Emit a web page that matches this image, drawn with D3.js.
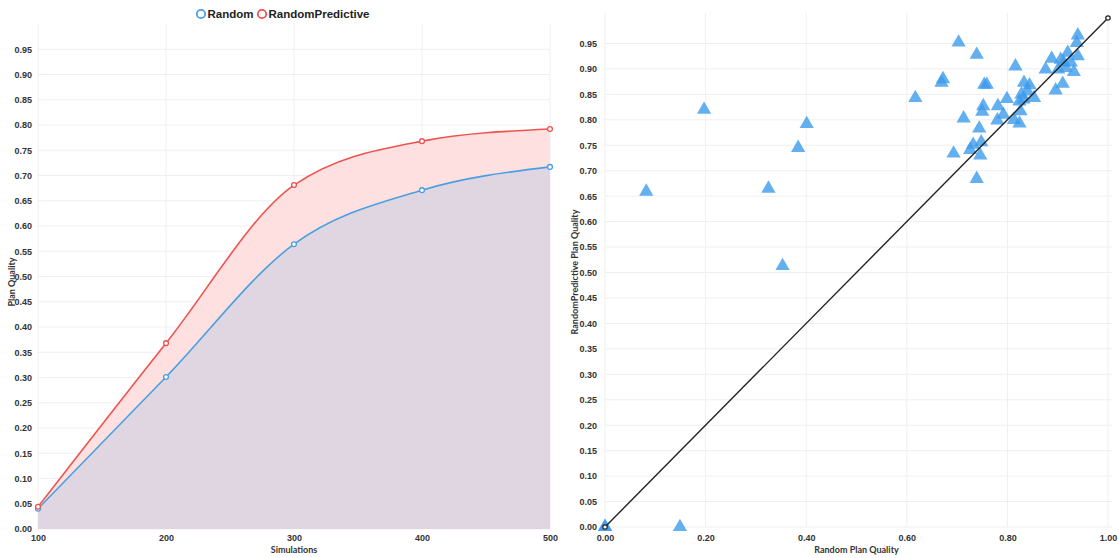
<!DOCTYPE html>
<html>
<head>
<meta charset="utf-8">
<script src="https://cdn.jsdelivr.net/npm/d3@7"></script>
<style>
  html, body { margin: 0; padding: 0; background: #fff; }
  svg { display: block; font-family: Lato, "Open Sans", sans-serif; }
  .tick text { font-size: 9px; font-weight: 700; fill: #333; }
  .title { font-size: 9px; font-weight: 700; fill: #333; }
  .legend { font-family: "Liberation Sans", Arial, sans-serif; font-size: 11.5px; font-weight: 700; fill: #222; }
</style>
</head>
<body>
<svg id="chart" width="1119" height="558"></svg>
<script>
// Plan quality vs. number of simulations
const simulations = [100, 200, 300, 400, 500];
const randomQuality = [0.040, 0.301, 0.564, 0.671, 0.717];
const predictiveQuality = [0.044, 0.368, 0.681, 0.768, 0.792];
const leftYTicks = d3.range(0, 0.951, 0.05);

// Per-problem plan quality: Random (x) vs RandomPredictive (y)
const scatterRandom = [
  0.000, 0.000, 0.149, 0.082, 0.197, 0.325, 0.401, 0.384, 0.353,
  0.617, 0.703, 0.739, 0.672, 0.669, 0.713, 0.693, 0.739, 0.744,
  0.732, 0.726, 0.748, 0.746, 0.754, 0.759, 0.752, 0.750, 0.781,
  0.792, 0.780, 0.799, 0.816, 0.813, 0.824, 0.826, 0.824, 0.828,
  0.833, 0.844, 0.853, 0.840, 0.832, 0.876, 0.888, 0.896, 0.910,
  0.901, 0.906, 0.916, 0.920, 0.926, 0.932, 0.940, 0.940, 0.938, 0.912
];
const scatterPredictive = [
  0.000, 0.000, 0.000, 0.659, 0.820, 0.665, 0.792, 0.745, 0.513,
  0.843, 0.952, 0.928, 0.880, 0.873, 0.803, 0.734, 0.684, 0.783,
  0.751, 0.741, 0.756, 0.730, 0.869, 0.869, 0.827, 0.816, 0.827,
  0.810, 0.799, 0.841, 0.905, 0.800, 0.793, 0.817, 0.836, 0.850,
  0.873, 0.868, 0.843, 0.856, 0.840, 0.899, 0.920, 0.858, 0.871,
  0.899, 0.918, 0.902, 0.932, 0.913, 0.894, 0.925, 0.966, 0.951, 0.913
];
const diagonal = [0, 1];
const rightXTicks = [0, 0.2, 0.4, 0.6, 0.8, 1.0];
const rightYTicks = d3.range(0, 0.951, 0.05);

const blue = "#4a9fe2";
const red = "#ef5350";
const gridColor = "#efefef";

const svg = d3.select("#chart");
const fmt = d3.format(".2f");

// ---------- Left: line/area chart ----------
const L = { left: 38, right: 550, top: 23, bottom: 529 };
const xL = d3.scaleLinear().domain([100, 500]).range([L.left, L.right]);
const yL = d3.scaleLinear().domain([0, 1]).range([L.bottom, 24]);

const gl = svg.append("g");

// grid
gl.append("g").selectAll("line.h").data(leftYTicks).join("line")
  .attr("x1", L.left).attr("x2", L.right)
  .attr("y1", d => yL(d)).attr("y2", d => yL(d))
  .attr("stroke", gridColor);
gl.append("g").selectAll("line.v").data(simulations).join("line")
  .attr("x1", d => xL(d)).attr("x2", d => xL(d))
  .attr("y1", L.top).attr("y2", L.bottom)
  .attr("stroke", gridColor);

const predData = simulations.map((s, i) => ({ x: s, y: predictiveQuality[i] }));
const randData = simulations.map((s, i) => ({ x: s, y: randomQuality[i] }));

const area = d3.area().curve(d3.curveMonotoneX)
  .x(d => xL(d.x)).y0(yL(0)).y1(d => yL(d.y));
const line = d3.line().curve(d3.curveMonotoneX)
  .x(d => xL(d.x)).y(d => yL(d.y));

gl.append("path").datum(predData).attr("d", area).attr("fill", "#fde0df");
gl.append("path").datum(randData).attr("d", area).attr("fill", "#e0d6e1");

gl.append("path").datum(randData).attr("d", line)
  .attr("fill", "none").attr("stroke", blue).attr("stroke-width", 1.6);
gl.append("path").datum(predData).attr("d", line)
  .attr("fill", "none").attr("stroke", red).attr("stroke-width", 1.6);

[[randData, blue], [predData, red]].forEach(([data, c]) => {
  gl.append("g").selectAll("circle").data(data).join("circle")
    .attr("cx", d => xL(d.x)).attr("cy", d => yL(d.y)).attr("r", 2.4)
    .attr("fill", "#fff").attr("stroke", c).attr("stroke-width", 1.3);
});

// axes
const axLX = gl.append("g").attr("transform", `translate(0,${L.bottom})`)
  .call(d3.axisBottom(xL).tickValues(simulations).tickSize(0).tickPadding(6));
axLX.select(".domain").remove();
const axLY = gl.append("g").attr("transform", `translate(${L.left},0)`)
  .call(d3.axisLeft(yL).tickValues(leftYTicks).tickFormat(fmt).tickSize(0).tickPadding(6));
axLY.select(".domain").remove();

gl.append("text").attr("class", "title")
  .attr("x", (L.left + L.right) / 2).attr("y", 553).attr("text-anchor", "middle")
  .text("Simulations");
gl.append("text").attr("class", "title")
  .attr("transform", `translate(15,${(L.top + L.bottom) / 2 + 6}) rotate(-90)`)
  .attr("text-anchor", "middle").text("Plan Quality");

// legend
const legend = svg.append("g");
[["Random", blue, 201], ["RandomPredictive", red, 262]].forEach(([name, c, x]) => {
  legend.append("circle").attr("cx", x).attr("cy", 14).attr("r", 4.2)
    .attr("fill", "#fff").attr("stroke", c).attr("stroke-width", 1.8);
  legend.append("text").attr("class", "legend")
    .attr("x", x + 6.5).attr("y", 18.2).text(name);
});

// ---------- Right: scatter chart ----------
const R = { left: 605, right: 1108, top: 13, bottom: 527 };
const xR = d3.scaleLinear().domain([0, 1]).range([R.left, R.right]);
const yR = d3.scaleLinear().domain([0, 1]).range([R.bottom, 18]);

const gr = svg.append("g");

gr.append("g").selectAll("line").data(rightYTicks).join("line")
  .attr("x1", R.left).attr("x2", R.right + 4)
  .attr("y1", d => yR(d)).attr("y2", d => yR(d))
  .attr("stroke", gridColor);
gr.append("g").selectAll("line").data(rightXTicks).join("line")
  .attr("x1", d => xR(d)).attr("x2", d => xR(d))
  .attr("y1", R.top).attr("y2", R.bottom)
  .attr("stroke", gridColor);

const axRX = gr.append("g").attr("transform", `translate(0,${R.bottom})`)
  .call(d3.axisBottom(xR).tickValues(rightXTicks).tickFormat(fmt).tickSize(0).tickPadding(8));
axRX.select(".domain").remove();
const axRY = gr.append("g").attr("transform", `translate(${R.left},0)`)
  .call(d3.axisLeft(yR).tickValues(rightYTicks).tickFormat(fmt).tickSize(0).tickPadding(8));
axRY.select(".domain").remove();

gr.append("text").attr("class", "title")
  .attr("x", (R.left + R.right) / 2).attr("y", 553).attr("text-anchor", "middle")
  .text("Random Plan Quality");
gr.append("text").attr("class", "title")
  .attr("transform", `translate(578,${(R.top + R.bottom) / 2 + 2}) rotate(-90)`)
  .attr("text-anchor", "middle").text("RandomPredictive Plan Quality");

// scatter triangles
const tri = d3.symbol().type(d3.symbolTriangle).size(88);
gr.append("g").selectAll("path").data(scatterRandom.map((x, i) => [x, scatterPredictive[i]])).join("path")
  .attr("d", tri)
  .attr("transform", d => `translate(${xR(d[0])},${yR(d[1])})`)
  .attr("fill", "#3d9bec").attr("fill-opacity", 0.8);

// y = x reference line
gr.append("line")
  .attr("x1", xR(diagonal[0])).attr("y1", yR(diagonal[0]))
  .attr("x2", xR(diagonal[1])).attr("y2", yR(diagonal[1]))
  .attr("stroke", "#222").attr("stroke-width", 1.4);
gr.append("g").selectAll("circle").data(diagonal).join("circle")
  .attr("cx", d => xR(d)).attr("cy", d => yR(d)).attr("r", 2.2)
  .attr("fill", "#fff").attr("stroke", "#222").attr("stroke-width", 1.2);
</script>
</body>
</html>
